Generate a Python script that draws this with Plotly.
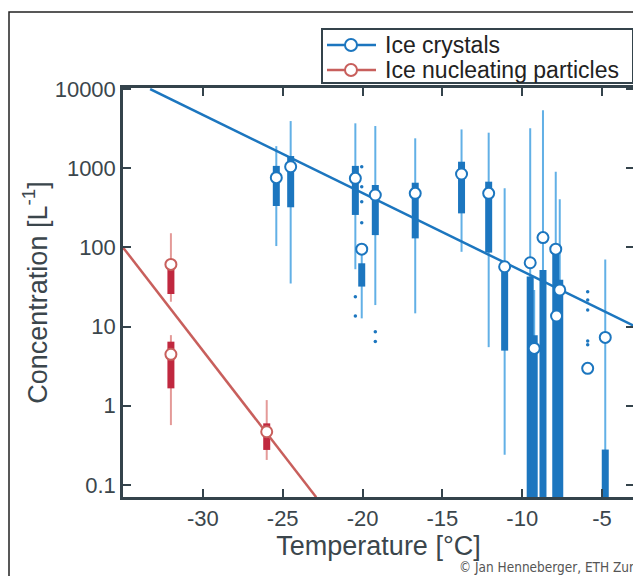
import plotly.graph_objects as go

# ---------------- data ----------------
# Ice crystals (box-whisker summaries per temperature bin)
ic_temp      = [-25.4, -24.5, -20.45, -20.05, -19.2, -16.7, -13.8, -12.1, -11.1, -9.5, -9.25, -8.7, -7.9, -7.65, -7.85, -5.9, -4.8]
ic_whisk_hi  = [1900, 3940, 3690, 95, 3410, 2385, 3090, 2810, 557, 3200, 29, 5400, 903, 405, None, None, 70.6]
ic_box_hi    = [1070, 1425, 1070, 63, 614, 656, 1208, 676, 66, 43, 7.8, 52, 84, 39, None, None, 0.28]
ic_mid       = [760, 1045, 745, 95, 459, 482, 845, 482, 57, 64, 5.3, 133, 95, 29, 13.6, 2.97, 7.3]
ic_box_lo    = [333, 321, 257, 32, 143, 130, 269, 86, 4.97, 0.01, 0.01, 0.01, 0.01, 0.01, None, None, 0.01]
ic_whisk_lo  = [104, 35, 53, 12.7, 18.7, 14.7, 88, 5.5, 0.24, 0.01, 0.01, 0.01, 0.01, 0.01, None, None, 0.01]
ic_out_temp  = [-20.05, -20.05, -20.05, -20.05, -20.45, -20.45, -19.2, -19.2, -5.9, -5.9, -5.9, -5.9, -5.9]
ic_out_conc  = [1045, 585, 378, 205, 23.9, 13.6, 8.6, 6.5, 27.6, 21.7, 16.2, 6.6, 5.9]

# Ice nucleating particles
inp_temp     = [-32.0, -32.0, -26.0]
inp_whisk_hi = [151, 7.8, 1.18]
inp_box_hi   = [55, 6.45, 0.60]
inp_mid      = [61, 4.47, 0.47]
inp_box_lo   = [25.8, 1.66, 0.277]
inp_whisk_lo = [20.6, 0.57, 0.207]

# Fitted trend lines (end points)
ic_fit_temp  = [-33.3, -3.0]
ic_fit_conc  = [10000, 10.2]
inp_fit_temp = [-35.0, -22.9]
inp_fit_conc = [100, 0.07]

x_ticks = [-30, -25, -20, -15, -10, -5]
x_tick_text = ["-30", "-25", "-20", "-15", "-10", "-5"]
y_ticks = [0.1, 1, 10, 100, 1000, 10000]
y_tick_text = ["0.1", "1", "10", "100", "1000", "10000"]
legend_names = ["Ice crystals", "Ice nucleating particles"]

# ---------------- styles ----------------
BLUE = "#1c76bf"
BLUE_LIGHT = "#62b0e6"
RED = "#c85f5c"
RED_BOX = "#c0283f"
RED_LIGHT = "#e49a98"
AX = "#34434b"
TXT = "#3b464c"
FONT = "Liberation Sans, Arial, sans-serif"


def segs(xs, lo, hi):
    X, Y = [], []
    for x, a, b in zip(xs, lo, hi):
        if a is None or b is None:
            continue
        X += [x, x, None]
        Y += [a, b, None]
    return X, Y


def pts(xs, ys):
    X, Y = [], []
    for x, y in zip(xs, ys):
        if y is None:
            continue
        X.append(x)
        Y.append(y)
    return X, Y


fig = go.Figure()

# whiskers
for xs, lo, hi, col in [(ic_temp, ic_whisk_lo, ic_whisk_hi, BLUE_LIGHT),
                        (inp_temp, inp_whisk_lo, inp_whisk_hi, RED_LIGHT)]:
    X, Y = segs(xs, lo, hi)
    fig.add_trace(go.Scatter(x=X, y=Y, mode="lines", line=dict(color=col, width=2),
                             showlegend=False, hoverinfo="skip"))
# boxes
for xs, lo, hi, col in [(ic_temp, ic_box_lo, ic_box_hi, BLUE),
                        (inp_temp, inp_box_lo, inp_box_hi, RED_BOX)]:
    X, Y = segs(xs, lo, hi)
    fig.add_trace(go.Scatter(x=X, y=Y, mode="lines", line=dict(color=col, width=7),
                             showlegend=False, hoverinfo="skip"))
# outliers
fig.add_trace(go.Scatter(x=ic_out_temp, y=ic_out_conc, mode="markers",
                         marker=dict(color=BLUE, size=3.5), showlegend=False))

# trend lines
fig.add_trace(go.Scatter(x=ic_fit_temp, y=ic_fit_conc, mode="lines",
                         line=dict(color=BLUE, width=2.5), showlegend=False))
fig.add_trace(go.Scatter(x=inp_fit_temp, y=inp_fit_conc, mode="lines",
                         line=dict(color=RED, width=2.5), showlegend=False))

# circles
X, Y = pts(ic_temp, ic_mid)
fig.add_trace(go.Scatter(x=X, y=Y, mode="markers",
                         marker=dict(color="white", size=11, line=dict(color=BLUE, width=2)),
                         showlegend=False))
X, Y = pts(inp_temp, inp_mid)
fig.add_trace(go.Scatter(x=X, y=Y, mode="markers",
                         marker=dict(color="white", size=11, line=dict(color=RED, width=2)),
                         showlegend=False))

axis_common = dict(showline=True, linecolor=AX, linewidth=2.5, mirror="ticks",
                   ticks="inside", ticklen=8, tickwidth=2, tickcolor=AX,
                   showgrid=False, zeroline=False,
                   tickfont=dict(family=FONT, size=22, color=TXT))

fig.update_xaxes(range=[-35, -3], tickvals=x_ticks, ticktext=x_tick_text,
                 title=dict(text="Temperature [°C]", font=dict(family=FONT, size=27, color=TXT),
                            standoff=2),
                 **axis_common)
fig.update_yaxes(type="log", range=[-1.152, 4.013], tickvals=y_ticks, ticktext=y_tick_text,
                 title=dict(text="Concentration [L<sup>-1</sup>]",
                            font=dict(family=FONT, size=27, color=TXT), standoff=0),
                 **axis_common)

# ---- hand-built legend (paper coordinates relative to plot area) ----
PW, PH = 511.0, 409.0  # plot area size in px


def px(v):
    return (v - 115) / PW


def py(v):
    return (489 - v) / PH


shapes = [
    # outer frame
    dict(type="rect", xref="paper", yref="paper", x0=px(1), x1=2.0, y0=-1.0, y1=py(4),
         line=dict(color="#222", width=1.5), layer="below"),
    # legend box
    dict(type="rect", xref="paper", yref="paper", x0=px(314), x1=px(625), y0=py(75), y1=py(21),
         line=dict(color=AX, width=2), fillcolor="white", layer="above"),
]
annotations = []
for i, (name, col) in enumerate(zip(legend_names, [BLUE, RED])):
    yc = 37 + 25 * i
    shapes.append(dict(type="line", xref="paper", yref="paper", x0=px(319), x1=px(368),
                       y0=py(yc), y1=py(yc), line=dict(color=col, width=2.5), layer="above"))
    shapes.append(dict(type="circle", xref="paper", yref="paper",
                       x0=px(343 - 6), x1=px(343 + 6), y0=py(yc + 6), y1=py(yc - 6),
                       line=dict(color=col, width=2), fillcolor="white", layer="above"))
    annotations.append(dict(text=name, xref="paper", yref="paper", x=px(375), y=py(yc),
                            xanchor="left", yanchor="middle", showarrow=False,
                            font=dict(family=FONT, size=23, color="#222")))

annotations.append(dict(text="© Jan Henneberger, ETH Zurich", xref="paper", yref="paper",
                        x=px(449), y=py(559), xanchor="left", yanchor="middle", showarrow=False,
                        font=dict(family="Liberation Sans Narrow, DejaVu Sans Condensed, Arial",
                                  size=13.5, color="#555")))

fig.update_layout(
    width=633, height=568,
    margin=dict(l=115, r=7, t=80, b=79, autoexpand=False),
    paper_bgcolor="white", plot_bgcolor="white",
    font=dict(family=FONT, color=TXT),
    showlegend=False,
    shapes=shapes,
    annotations=annotations,
)

fig.write_html("out.html")
